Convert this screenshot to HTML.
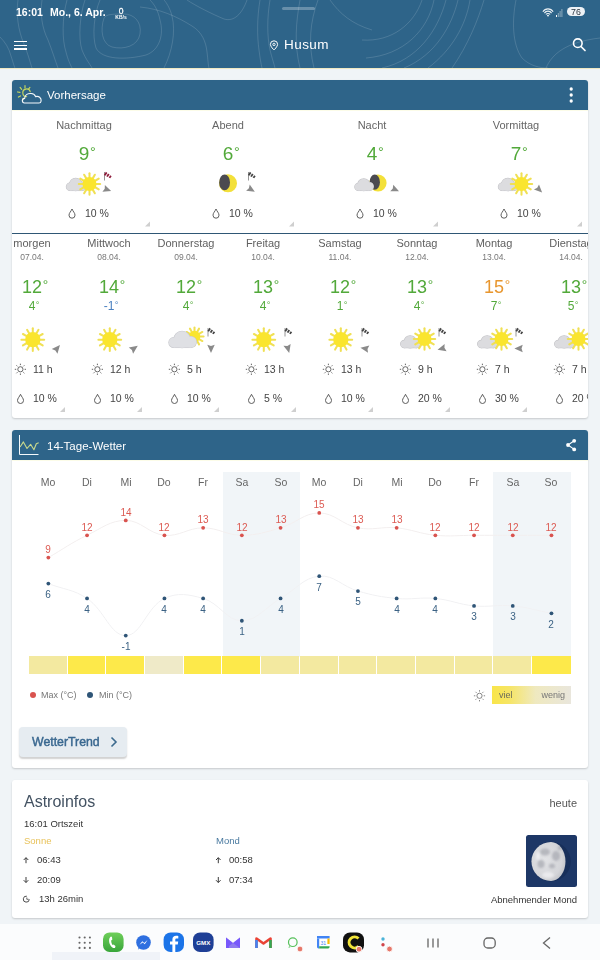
<!DOCTYPE html>
<html><head><meta charset="utf-8"><style>
*{margin:0;padding:0;box-sizing:border-box}
html,body{width:600px;height:960px;overflow:hidden;background:#f0f4f7;font-family:"Liberation Sans", sans-serif}
.t{position:absolute;white-space:nowrap;will-change:transform}
.abs{position:absolute}
</style></head><body>
<div class="abs" style="left:0;top:0;width:600px;height:68px;background:#2e6489"></div>
<svg style="position:absolute;left:0px;top:0px;" width="600" height="68" viewBox="0 0 600 68"><path d="M104 18 C100 30 102 44 112 47 C124 50 138 46 140 34 C142 22 134 14 124 14 C114 14 106 14 104 18" fill="none" stroke="rgba(255,255,255,0.14)" stroke-width="1"/><path d="M100 0 C94 14 92 36 96 48 C102 60 126 60 146 55 C160 50 164 34 160 20 C158 10 154 4 150 0" fill="none" stroke="rgba(255,255,255,0.14)" stroke-width="1"/><path d="M85 0 C80 14 78 38 82 50 C86 60 90 64 92 68" fill="none" stroke="rgba(255,255,255,0.14)" stroke-width="1"/><path d="M164 68 C172 52 176 32 172 16 C170 8 166 2 164 0" fill="none" stroke="rgba(255,255,255,0.14)" stroke-width="1"/><path d="M67 0 C62 18 62 40 66 52 C68 60 70 64 72 68" fill="none" stroke="rgba(255,255,255,0.14)" stroke-width="1"/><path d="M42 0 C40 14 42 28 48 40 C52 50 55 60 58 68" fill="none" stroke="rgba(255,255,255,0.14)" stroke-width="1"/><path d="M0 37 C5 42 9 48 11 56 C13 62 14 66 15 68" fill="none" stroke="rgba(255,255,255,0.14)" stroke-width="1"/><path d="M18 0 C16 14 18 30 24 44 C28 54 30 62 32 68" fill="none" stroke="rgba(255,255,255,0.14)" stroke-width="1"/><path d="M140 7 C160 9 176 16 192 26 C202 32 206 42 207 52 C208 60 208 64 209 68" fill="none" stroke="rgba(255,255,255,0.14)" stroke-width="1"/><path d="M187 0 C196 6 212 14 224 19 C234 22 242 14 247 0" fill="none" stroke="rgba(255,255,255,0.14)" stroke-width="1"/><path d="M260 0 C257 18 257 36 259 50 C260 58 261 64 262 68" fill="none" stroke="rgba(255,255,255,0.14)" stroke-width="1"/><path d="M270 0 C267 18 267 36 270 50 C272 58 274 64 275 68" fill="none" stroke="rgba(255,255,255,0.14)" stroke-width="1"/><path d="M300 0 C296 22 294 44 300 68" fill="none" stroke="rgba(255,255,255,0.14)" stroke-width="1"/><path d="M318 0 C310 22 308 44 314 68" fill="none" stroke="rgba(255,255,255,0.14)" stroke-width="1"/><path d="M330 0 C340 14 352 24 372 30" fill="none" stroke="rgba(255,255,255,0.14)" stroke-width="1"/><path d="M362 40 C392 42 414 24 422 0" fill="none" stroke="rgba(255,255,255,0.14)" stroke-width="1"/><path d="M366 58 C404 55 428 30 434 0" fill="none" stroke="rgba(255,255,255,0.14)" stroke-width="1"/><path d="M382 68 C418 60 438 30 446 0" fill="none" stroke="rgba(255,255,255,0.14)" stroke-width="1"/><path d="M404 68 C436 55 452 25 458 0" fill="none" stroke="rgba(255,255,255,0.14)" stroke-width="1"/><path d="M428 68 C452 50 466 25 470 0" fill="none" stroke="rgba(255,255,255,0.14)" stroke-width="1"/><path d="M452 68 C468 45 478 20 484 0" fill="none" stroke="rgba(255,255,255,0.14)" stroke-width="1"/><path d="M516 0 C512 20 512 44 522 58 C530 66 540 68 548 68" fill="none" stroke="rgba(255,255,255,0.14)" stroke-width="1"/><path d="M546 68 C552 54 566 42 600 38" fill="none" stroke="rgba(255,255,255,0.14)" stroke-width="1"/></svg>
<div class="abs" style="left:0;top:68px;width:600px;height:1px;background:#efe8c2"></div>
<div class="t" style="left:15.50px;top:7px;font-size:10.5px;line-height:10.5px;color:#fff;font-weight:700;">16:01</div>
<div class="t" style="left:50.00px;top:7px;font-size:10.5px;line-height:10.5px;color:#fff;font-weight:700;">Mo., 6. Apr.</div>
<div class="t" style="left:-29.00px;width:300px;text-align:center;top:7px;font-size:8.5px;line-height:8.5px;color:#fff;font-weight:400;-webkit-text-stroke:0.3px #fff">0</div>
<div class="t" style="left:-29.20px;width:300px;text-align:center;top:15px;font-size:5px;line-height:5px;color:#fff;font-weight:700;">KB/s</div>
<div class="abs" style="left:282px;top:7px;width:33px;height:3px;border-radius:2px;background:rgba(255,255,255,0.28)"></div>
<svg style="position:absolute;left:0px;top:0px;" width="600" height="30" viewBox="0 0 600 30"><path d="M542.90 11.70 A6.0 6.0 0 0 1 553.10 11.70" fill="none" stroke="#fff" stroke-width="1.1" opacity="0.9"/><path d="M544.43 13.14 A4.2 4.2 0 0 1 551.57 13.14" fill="none" stroke="#fff" stroke-width="1.1" opacity="0.9"/><path d="M545.96 14.58 A2.4 2.4 0 0 1 550.04 14.58" fill="none" stroke="#fff" stroke-width="1.1" opacity="0.9"/><circle cx="548" cy="15.6" r="0.9" fill="#fff"/><rect x="556.0" y="15" width="1" height="2" fill="#fff" opacity="1"/><rect x="557.8" y="13" width="1" height="4" fill="#fff" opacity="0.45"/><rect x="559.6" y="11" width="1" height="6" fill="#fff" opacity="0.45"/><rect x="561.4" y="9" width="1" height="8" fill="#fff" opacity="0.45"/></svg>
<div class="abs" style="left:567.3px;top:7.3px;width:18px;height:8.8px;border-radius:4.5px;background:#eef2f6"></div>
<div class="t" style="left:426.30px;width:300px;text-align:center;top:8px;font-size:8.8px;line-height:8.8px;color:#2a3540;font-weight:400;">76</div>
<div class="abs" style="left:14px;top:40.5px;width:13px;height:1.6px;background:#fff"></div>
<div class="abs" style="left:14px;top:44.5px;width:13px;height:1.6px;background:#fff"></div>
<div class="abs" style="left:14px;top:48.3px;width:13px;height:1.6px;background:#fff"></div>
<svg style="position:absolute;left:268px;top:39px;" width="12" height="13" viewBox="0 0 12 13"><path d="M6 11 C6 11 2.4 7.5 2.4 5.4 A3.6 3.6 0 0 1 9.6 5.4 C9.6 7.5 6 11 6 11 Z" fill="none" stroke="#fff" stroke-width="1"/><circle cx="6" cy="5.4" r="1.2" fill="none" stroke="#fff" stroke-width="0.9"/></svg>
<div class="t" style="left:284.40px;top:38px;font-size:13.5px;line-height:13.5px;color:#fff;font-weight:400;letter-spacing:0.45px">Husum</div>
<svg style="position:absolute;left:570px;top:35px;" width="20" height="20" viewBox="0 0 20 20"><circle cx="7.8" cy="8.2" r="4.3" fill="none" stroke="#fff" stroke-width="1.6"/><line x1="11" y1="11.5" x2="15" y2="15.5" stroke="#fff" stroke-width="1.7" stroke-linecap="round"/></svg>
<div class="abs" style="left:12px;top:80.2px;width:576px;height:338.3px;background:#fff;border-radius:3px;box-shadow:0 1px 2px rgba(0,0,0,0.18)"></div>
<div class="abs" style="left:12px;top:80.2px;width:576px;height:29.5px;background:#2e6489;border-radius:3px 3px 0 0"></div>
<div class="abs" style="left:12px;top:109.7px;width:576px;height:1px;background:#fcfce8"></div>
<svg style="position:absolute;left:12px;top:82px;" width="36" height="26" viewBox="0 0 36 26"><g stroke="#c4d55e" stroke-width="1.2" fill="none" stroke-linecap="round"><path d="M14.6 14.6 A3.8 3.8 0 1 1 18.2 9.6"/><line x1="13.00" y1="6.10" x2="13.00" y2="3.70"/><line x1="9.66" y1="7.32" x2="8.11" y2="5.48"/><line x1="7.88" y1="10.40" x2="5.52" y2="9.98"/><line x1="8.50" y1="13.90" x2="6.42" y2="15.10"/><line x1="11.22" y1="16.19" x2="10.40" y2="18.44"/><line x1="16.34" y1="7.32" x2="17.89" y2="5.48"/></g><path d="M12.5 21 C9.8 21 9.6 16.6 12.6 16.4 C13 13 16 11.2 19.2 11.5 C21.4 11.7 23 13 23.6 14.6 C26.6 13.6 29.6 16 29.1 19 C28.9 20.5 28 21 27 21 Z" fill="none" stroke="#f4f8fb" stroke-width="1.15"/></svg>
<div class="t" style="left:46.50px;top:90px;font-size:11.5px;line-height:11.5px;color:#fff;font-weight:400;">Vorhersage</div>
<svg style="position:absolute;left:560px;top:80px;" width="20" height="30" viewBox="0 0 20 30"><circle cx="11.2" cy="9" r="1.65" fill="#fff"/><circle cx="11.2" cy="15" r="1.65" fill="#fff"/><circle cx="11.2" cy="21" r="1.65" fill="#fff"/></svg>
<div class="t" style="left:-66.00px;width:300px;text-align:center;top:120px;font-size:11px;line-height:11px;color:#666;font-weight:400;">Nachmittag</div>
<div class="t" style="left:-66.00px;width:300px;text-align:center;top:144px;font-size:19px;line-height:19px;color:#52a93a"><span style="position:relative">9<span style="position:absolute;left:100%;top:0.02em;font-size:0.76em;padding-left:0.05em">°</span></span></div>
<div class="t" style="left:84.50px;top:208px;font-size:10.5px;line-height:10.5px;color:#444;font-weight:400;">10 %</div>
<div class="t" style="left:78.00px;width:300px;text-align:center;top:120px;font-size:11px;line-height:11px;color:#666;font-weight:400;">Abend</div>
<div class="t" style="left:78.00px;width:300px;text-align:center;top:144px;font-size:19px;line-height:19px;color:#52a93a"><span style="position:relative">6<span style="position:absolute;left:100%;top:0.02em;font-size:0.76em;padding-left:0.05em">°</span></span></div>
<div class="t" style="left:228.50px;top:208px;font-size:10.5px;line-height:10.5px;color:#444;font-weight:400;">10 %</div>
<div class="t" style="left:222.00px;width:300px;text-align:center;top:120px;font-size:11px;line-height:11px;color:#666;font-weight:400;">Nacht</div>
<div class="t" style="left:222.00px;width:300px;text-align:center;top:144px;font-size:19px;line-height:19px;color:#52a93a"><span style="position:relative">4<span style="position:absolute;left:100%;top:0.02em;font-size:0.76em;padding-left:0.05em">°</span></span></div>
<div class="t" style="left:372.50px;top:208px;font-size:10.5px;line-height:10.5px;color:#444;font-weight:400;">10 %</div>
<div class="t" style="left:366.00px;width:300px;text-align:center;top:120px;font-size:11px;line-height:11px;color:#666;font-weight:400;">Vormittag</div>
<div class="t" style="left:366.00px;width:300px;text-align:center;top:144px;font-size:19px;line-height:19px;color:#52a93a"><span style="position:relative">7<span style="position:absolute;left:100%;top:0.02em;font-size:0.76em;padding-left:0.05em">°</span></span></div>
<div class="t" style="left:516.50px;top:208px;font-size:10.5px;line-height:10.5px;color:#444;font-weight:400;">10 %</div>
<div class="abs" style="left:12px;top:232.8px;width:576px;height:1.2px;background:#2f5775"></div>
<div class="abs" style="left:12px;top:234px;width:576px;height:184px;overflow:hidden">
<div class="t" style="left:-130.00px;width:300px;text-align:center;top:4px;font-size:11px;line-height:11px;color:#606060;font-weight:400;">morgen</div>
<div class="t" style="left:-130.00px;width:300px;text-align:center;top:19px;font-size:8.5px;line-height:8.5px;color:#777;font-weight:400;">07.04.</div>
<div class="t" style="left:-130.00px;width:300px;text-align:center;top:44px;font-size:18px;line-height:18px;color:#52a93a"><span style="position:relative">12<span style="position:absolute;left:100%;top:-0.04em;font-size:0.76em;padding-left:0.05em">°</span></span></div>
<div class="t" style="left:-130.00px;width:300px;text-align:center;top:66px;font-size:12px;line-height:12px;color:#52a93a"><span style="position:relative">4<span style="position:absolute;left:100%;top:-0.04em;font-size:0.76em;padding-left:0.05em">°</span></span></div>
<div class="t" style="left:20.60px;top:130px;font-size:10.5px;line-height:10.5px;color:#444;font-weight:400;">11 h</div>
<div class="t" style="left:20.60px;top:159px;font-size:10.5px;line-height:10.5px;color:#444;font-weight:400;">10 %</div>
<div class="t" style="left:-53.00px;width:300px;text-align:center;top:4px;font-size:11px;line-height:11px;color:#606060;font-weight:400;">Mittwoch</div>
<div class="t" style="left:-53.00px;width:300px;text-align:center;top:19px;font-size:8.5px;line-height:8.5px;color:#777;font-weight:400;">08.04.</div>
<div class="t" style="left:-53.00px;width:300px;text-align:center;top:44px;font-size:18px;line-height:18px;color:#52a93a"><span style="position:relative">14<span style="position:absolute;left:100%;top:-0.04em;font-size:0.76em;padding-left:0.05em">°</span></span></div>
<div class="t" style="left:-53.00px;width:300px;text-align:center;top:66px;font-size:12px;line-height:12px;color:#4a80c0"><span style="position:relative">-1<span style="position:absolute;left:100%;top:-0.04em;font-size:0.76em;padding-left:0.05em">°</span></span></div>
<div class="t" style="left:97.60px;top:130px;font-size:10.5px;line-height:10.5px;color:#444;font-weight:400;">12 h</div>
<div class="t" style="left:97.60px;top:159px;font-size:10.5px;line-height:10.5px;color:#444;font-weight:400;">10 %</div>
<div class="t" style="left:24.00px;width:300px;text-align:center;top:4px;font-size:11px;line-height:11px;color:#606060;font-weight:400;">Donnerstag</div>
<div class="t" style="left:24.00px;width:300px;text-align:center;top:19px;font-size:8.5px;line-height:8.5px;color:#777;font-weight:400;">09.04.</div>
<div class="t" style="left:24.00px;width:300px;text-align:center;top:44px;font-size:18px;line-height:18px;color:#52a93a"><span style="position:relative">12<span style="position:absolute;left:100%;top:-0.04em;font-size:0.76em;padding-left:0.05em">°</span></span></div>
<div class="t" style="left:24.00px;width:300px;text-align:center;top:66px;font-size:12px;line-height:12px;color:#52a93a"><span style="position:relative">4<span style="position:absolute;left:100%;top:-0.04em;font-size:0.76em;padding-left:0.05em">°</span></span></div>
<div class="t" style="left:174.60px;top:130px;font-size:10.5px;line-height:10.5px;color:#444;font-weight:400;">5 h</div>
<div class="t" style="left:174.60px;top:159px;font-size:10.5px;line-height:10.5px;color:#444;font-weight:400;">10 %</div>
<div class="t" style="left:101.00px;width:300px;text-align:center;top:4px;font-size:11px;line-height:11px;color:#606060;font-weight:400;">Freitag</div>
<div class="t" style="left:101.00px;width:300px;text-align:center;top:19px;font-size:8.5px;line-height:8.5px;color:#777;font-weight:400;">10.04.</div>
<div class="t" style="left:101.00px;width:300px;text-align:center;top:44px;font-size:18px;line-height:18px;color:#52a93a"><span style="position:relative">13<span style="position:absolute;left:100%;top:-0.04em;font-size:0.76em;padding-left:0.05em">°</span></span></div>
<div class="t" style="left:101.00px;width:300px;text-align:center;top:66px;font-size:12px;line-height:12px;color:#52a93a"><span style="position:relative">4<span style="position:absolute;left:100%;top:-0.04em;font-size:0.76em;padding-left:0.05em">°</span></span></div>
<div class="t" style="left:251.60px;top:130px;font-size:10.5px;line-height:10.5px;color:#444;font-weight:400;">13 h</div>
<div class="t" style="left:251.60px;top:159px;font-size:10.5px;line-height:10.5px;color:#444;font-weight:400;">5 %</div>
<div class="t" style="left:178.00px;width:300px;text-align:center;top:4px;font-size:11px;line-height:11px;color:#606060;font-weight:400;">Samstag</div>
<div class="t" style="left:178.00px;width:300px;text-align:center;top:19px;font-size:8.5px;line-height:8.5px;color:#777;font-weight:400;">11.04.</div>
<div class="t" style="left:178.00px;width:300px;text-align:center;top:44px;font-size:18px;line-height:18px;color:#52a93a"><span style="position:relative">12<span style="position:absolute;left:100%;top:-0.04em;font-size:0.76em;padding-left:0.05em">°</span></span></div>
<div class="t" style="left:178.00px;width:300px;text-align:center;top:66px;font-size:12px;line-height:12px;color:#52a93a"><span style="position:relative">1<span style="position:absolute;left:100%;top:-0.04em;font-size:0.76em;padding-left:0.05em">°</span></span></div>
<div class="t" style="left:328.60px;top:130px;font-size:10.5px;line-height:10.5px;color:#444;font-weight:400;">13 h</div>
<div class="t" style="left:328.60px;top:159px;font-size:10.5px;line-height:10.5px;color:#444;font-weight:400;">10 %</div>
<div class="t" style="left:255.00px;width:300px;text-align:center;top:4px;font-size:11px;line-height:11px;color:#606060;font-weight:400;">Sonntag</div>
<div class="t" style="left:255.00px;width:300px;text-align:center;top:19px;font-size:8.5px;line-height:8.5px;color:#777;font-weight:400;">12.04.</div>
<div class="t" style="left:255.00px;width:300px;text-align:center;top:44px;font-size:18px;line-height:18px;color:#52a93a"><span style="position:relative">13<span style="position:absolute;left:100%;top:-0.04em;font-size:0.76em;padding-left:0.05em">°</span></span></div>
<div class="t" style="left:255.00px;width:300px;text-align:center;top:66px;font-size:12px;line-height:12px;color:#52a93a"><span style="position:relative">4<span style="position:absolute;left:100%;top:-0.04em;font-size:0.76em;padding-left:0.05em">°</span></span></div>
<div class="t" style="left:405.60px;top:130px;font-size:10.5px;line-height:10.5px;color:#444;font-weight:400;">9 h</div>
<div class="t" style="left:405.60px;top:159px;font-size:10.5px;line-height:10.5px;color:#444;font-weight:400;">20 %</div>
<div class="t" style="left:332.00px;width:300px;text-align:center;top:4px;font-size:11px;line-height:11px;color:#606060;font-weight:400;">Montag</div>
<div class="t" style="left:332.00px;width:300px;text-align:center;top:19px;font-size:8.5px;line-height:8.5px;color:#777;font-weight:400;">13.04.</div>
<div class="t" style="left:332.00px;width:300px;text-align:center;top:44px;font-size:18px;line-height:18px;color:#e8962e"><span style="position:relative">15<span style="position:absolute;left:100%;top:-0.04em;font-size:0.76em;padding-left:0.05em">°</span></span></div>
<div class="t" style="left:332.00px;width:300px;text-align:center;top:66px;font-size:12px;line-height:12px;color:#52a93a"><span style="position:relative">7<span style="position:absolute;left:100%;top:-0.04em;font-size:0.76em;padding-left:0.05em">°</span></span></div>
<div class="t" style="left:482.60px;top:130px;font-size:10.5px;line-height:10.5px;color:#444;font-weight:400;">7 h</div>
<div class="t" style="left:482.60px;top:159px;font-size:10.5px;line-height:10.5px;color:#444;font-weight:400;">30 %</div>
<div class="t" style="left:409.00px;width:300px;text-align:center;top:4px;font-size:11px;line-height:11px;color:#606060;font-weight:400;">Dienstag</div>
<div class="t" style="left:409.00px;width:300px;text-align:center;top:19px;font-size:8.5px;line-height:8.5px;color:#777;font-weight:400;">14.04.</div>
<div class="t" style="left:409.00px;width:300px;text-align:center;top:44px;font-size:18px;line-height:18px;color:#52a93a"><span style="position:relative">13<span style="position:absolute;left:100%;top:-0.04em;font-size:0.76em;padding-left:0.05em">°</span></span></div>
<div class="t" style="left:409.00px;width:300px;text-align:center;top:66px;font-size:12px;line-height:12px;color:#52a93a"><span style="position:relative">5<span style="position:absolute;left:100%;top:-0.04em;font-size:0.76em;padding-left:0.05em">°</span></span></div>
<div class="t" style="left:559.60px;top:130px;font-size:10.5px;line-height:10.5px;color:#444;font-weight:400;">7 h</div>
<div class="t" style="left:559.60px;top:159px;font-size:10.5px;line-height:10.5px;color:#444;font-weight:400;">20 %</div>
<svg style="position:absolute;left:0px;top:0px;" width="576" height="184" viewBox="0 0 576 184"><line x1="20.80" y1="98.60" x2="20.80" y2="94.30" stroke="#f0e054" stroke-width="2.04" stroke-linecap="round"/><line x1="24.35" y1="99.55" x2="26.50" y2="95.83" stroke="#f0e054" stroke-width="2.04" stroke-linecap="round"/><line x1="26.95" y1="102.15" x2="30.67" y2="100.00" stroke="#f0e054" stroke-width="2.04" stroke-linecap="round"/><line x1="27.90" y1="105.70" x2="32.20" y2="105.70" stroke="#f0e054" stroke-width="2.04" stroke-linecap="round"/><line x1="26.95" y1="109.25" x2="30.67" y2="111.40" stroke="#f0e054" stroke-width="2.04" stroke-linecap="round"/><line x1="24.35" y1="111.85" x2="26.50" y2="115.57" stroke="#f0e054" stroke-width="2.04" stroke-linecap="round"/><line x1="20.80" y1="112.80" x2="20.80" y2="117.10" stroke="#f0e054" stroke-width="2.04" stroke-linecap="round"/><line x1="17.25" y1="111.85" x2="15.10" y2="115.57" stroke="#f0e054" stroke-width="2.04" stroke-linecap="round"/><line x1="14.65" y1="109.25" x2="10.93" y2="111.40" stroke="#f0e054" stroke-width="2.04" stroke-linecap="round"/><line x1="13.70" y1="105.70" x2="9.40" y2="105.70" stroke="#f0e054" stroke-width="2.04" stroke-linecap="round"/><line x1="14.65" y1="102.15" x2="10.93" y2="100.00" stroke="#f0e054" stroke-width="2.04" stroke-linecap="round"/><line x1="17.25" y1="99.55" x2="15.10" y2="95.83" stroke="#f0e054" stroke-width="2.04" stroke-linecap="round"/><circle cx="20.8" cy="105.69999999999999" r="7.6" fill="#fae52e"/><polygon points="47.97,110.96 45.46,119.77 43.37,116.44 39.73,114.96" fill="#8a8a8a"/><circle cx="8.4" cy="135.3" r="2.6" fill="none" stroke="#555" stroke-width="0.9"/><line x1="12.60" y1="135.30" x2="14.00" y2="135.30" stroke="#555" stroke-width="0.9"/><line x1="11.37" y1="138.27" x2="12.36" y2="139.26" stroke="#555" stroke-width="0.9"/><line x1="8.40" y1="139.50" x2="8.40" y2="140.90" stroke="#555" stroke-width="0.9"/><line x1="5.43" y1="138.27" x2="4.44" y2="139.26" stroke="#555" stroke-width="0.9"/><line x1="4.20" y1="135.30" x2="2.80" y2="135.30" stroke="#555" stroke-width="0.9"/><line x1="5.43" y1="132.33" x2="4.44" y2="131.34" stroke="#555" stroke-width="0.9"/><line x1="8.40" y1="131.10" x2="8.40" y2="129.70" stroke="#555" stroke-width="0.9"/><line x1="11.37" y1="132.33" x2="12.36" y2="131.34" stroke="#555" stroke-width="0.9"/><path d="M8.5 160.3 C7.5 162.8 5.5 164.3 5.5 166.5 A3 3 0 0 0 11.5 166.5 C11.5 164.3 9.5 162.8 8.5 160.3 Z" fill="none" stroke="#555" stroke-width="0.95"/><polygon points="53,173 53,178 48,178" fill="#cfcfcf"/><line x1="97.80" y1="98.60" x2="97.80" y2="94.30" stroke="#f0e054" stroke-width="2.04" stroke-linecap="round"/><line x1="101.35" y1="99.55" x2="103.50" y2="95.83" stroke="#f0e054" stroke-width="2.04" stroke-linecap="round"/><line x1="103.95" y1="102.15" x2="107.67" y2="100.00" stroke="#f0e054" stroke-width="2.04" stroke-linecap="round"/><line x1="104.90" y1="105.70" x2="109.20" y2="105.70" stroke="#f0e054" stroke-width="2.04" stroke-linecap="round"/><line x1="103.95" y1="109.25" x2="107.67" y2="111.40" stroke="#f0e054" stroke-width="2.04" stroke-linecap="round"/><line x1="101.35" y1="111.85" x2="103.50" y2="115.57" stroke="#f0e054" stroke-width="2.04" stroke-linecap="round"/><line x1="97.80" y1="112.80" x2="97.80" y2="117.10" stroke="#f0e054" stroke-width="2.04" stroke-linecap="round"/><line x1="94.25" y1="111.85" x2="92.10" y2="115.57" stroke="#f0e054" stroke-width="2.04" stroke-linecap="round"/><line x1="91.65" y1="109.25" x2="87.93" y2="111.40" stroke="#f0e054" stroke-width="2.04" stroke-linecap="round"/><line x1="90.70" y1="105.70" x2="86.40" y2="105.70" stroke="#f0e054" stroke-width="2.04" stroke-linecap="round"/><line x1="91.65" y1="102.15" x2="87.93" y2="100.00" stroke="#f0e054" stroke-width="2.04" stroke-linecap="round"/><line x1="94.25" y1="99.55" x2="92.10" y2="95.83" stroke="#f0e054" stroke-width="2.04" stroke-linecap="round"/><circle cx="97.8" cy="105.69999999999999" r="7.6" fill="#fae52e"/><polygon points="125.78,111.85 121.08,119.71 119.93,115.95 116.79,113.58" fill="#8a8a8a"/><circle cx="85.4" cy="135.3" r="2.6" fill="none" stroke="#555" stroke-width="0.9"/><line x1="89.60" y1="135.30" x2="91.00" y2="135.30" stroke="#555" stroke-width="0.9"/><line x1="88.37" y1="138.27" x2="89.36" y2="139.26" stroke="#555" stroke-width="0.9"/><line x1="85.40" y1="139.50" x2="85.40" y2="140.90" stroke="#555" stroke-width="0.9"/><line x1="82.43" y1="138.27" x2="81.44" y2="139.26" stroke="#555" stroke-width="0.9"/><line x1="81.20" y1="135.30" x2="79.80" y2="135.30" stroke="#555" stroke-width="0.9"/><line x1="82.43" y1="132.33" x2="81.44" y2="131.34" stroke="#555" stroke-width="0.9"/><line x1="85.40" y1="131.10" x2="85.40" y2="129.70" stroke="#555" stroke-width="0.9"/><line x1="88.37" y1="132.33" x2="89.36" y2="131.34" stroke="#555" stroke-width="0.9"/><path d="M85.5 160.3 C84.5 162.8 82.5 164.3 82.5 166.5 A3 3 0 0 0 88.5 166.5 C88.5 164.3 86.5 162.8 85.5 160.3 Z" fill="none" stroke="#555" stroke-width="0.95"/><polygon points="130,173 130,178 125,178" fill="#cfcfcf"/><line x1="182.50" y1="97.20" x2="182.50" y2="93.40" stroke="#f0e054" stroke-width="2.04" stroke-linecap="round"/><line x1="185.15" y1="97.91" x2="187.05" y2="94.62" stroke="#f0e054" stroke-width="2.04" stroke-linecap="round"/><line x1="187.09" y1="99.85" x2="190.38" y2="97.95" stroke="#f0e054" stroke-width="2.04" stroke-linecap="round"/><line x1="187.80" y1="102.50" x2="191.60" y2="102.50" stroke="#f0e054" stroke-width="2.04" stroke-linecap="round"/><line x1="187.09" y1="105.15" x2="190.38" y2="107.05" stroke="#f0e054" stroke-width="2.04" stroke-linecap="round"/><line x1="185.15" y1="107.09" x2="187.05" y2="110.38" stroke="#f0e054" stroke-width="2.04" stroke-linecap="round"/><line x1="182.50" y1="107.80" x2="182.50" y2="111.60" stroke="#f0e054" stroke-width="2.04" stroke-linecap="round"/><line x1="179.85" y1="107.09" x2="177.95" y2="110.38" stroke="#f0e054" stroke-width="2.04" stroke-linecap="round"/><line x1="177.91" y1="105.15" x2="174.62" y2="107.05" stroke="#f0e054" stroke-width="2.04" stroke-linecap="round"/><line x1="177.20" y1="102.50" x2="173.40" y2="102.50" stroke="#f0e054" stroke-width="2.04" stroke-linecap="round"/><line x1="177.91" y1="99.85" x2="174.62" y2="97.95" stroke="#f0e054" stroke-width="2.04" stroke-linecap="round"/><line x1="179.85" y1="97.91" x2="177.95" y2="94.62" stroke="#f0e054" stroke-width="2.04" stroke-linecap="round"/><circle cx="182.5" cy="102.5" r="5.8" fill="#fae52e"/><g fill="#c8c9ce" stroke="#c8c9ce" stroke-width="1.1"><circle cx="161.81" cy="108.55" r="4.95"/><circle cx="170.06" cy="105.53" r="8.25"/><circle cx="178.90" cy="108.00" r="5.50"/><rect x="161.81" y="106.62" width="17.09" height="6.88"/></g><g fill="#dfe0e4"><circle cx="161.81" cy="108.55" r="4.95"/><circle cx="170.06" cy="105.53" r="8.25"/><circle cx="178.90" cy="108.00" r="5.50"/><rect x="161.81" y="106.62" width="17.09" height="6.88"/></g><line x1="196" y1="94" x2="196" y2="102.5" stroke="#8a8a8a" stroke-width="0.9"/><polygon points="197.43,93.80 198.85,94.91 196.97,97.83 195.37,97.00" fill="#444"/><polygon points="199.56,95.47 200.99,96.57 199.37,99.09 197.77,98.25" fill="#444"/><polygon points="201.70,97.13 203.12,98.24 201.77,100.34 200.17,99.50" fill="#444"/><polygon points="199.00,119.12 195.26,110.76 199.00,111.97 202.74,110.76" fill="#8a8a8a"/><circle cx="162.4" cy="135.3" r="2.6" fill="none" stroke="#555" stroke-width="0.9"/><line x1="166.60" y1="135.30" x2="168.00" y2="135.30" stroke="#555" stroke-width="0.9"/><line x1="165.37" y1="138.27" x2="166.36" y2="139.26" stroke="#555" stroke-width="0.9"/><line x1="162.40" y1="139.50" x2="162.40" y2="140.90" stroke="#555" stroke-width="0.9"/><line x1="159.43" y1="138.27" x2="158.44" y2="139.26" stroke="#555" stroke-width="0.9"/><line x1="158.20" y1="135.30" x2="156.80" y2="135.30" stroke="#555" stroke-width="0.9"/><line x1="159.43" y1="132.33" x2="158.44" y2="131.34" stroke="#555" stroke-width="0.9"/><line x1="162.40" y1="131.10" x2="162.40" y2="129.70" stroke="#555" stroke-width="0.9"/><line x1="165.37" y1="132.33" x2="166.36" y2="131.34" stroke="#555" stroke-width="0.9"/><path d="M162.5 160.3 C161.5 162.8 159.5 164.3 159.5 166.5 A3 3 0 0 0 165.5 166.5 C165.5 164.3 163.5 162.8 162.5 160.3 Z" fill="none" stroke="#555" stroke-width="0.95"/><polygon points="207,173 207,178 202,178" fill="#cfcfcf"/><line x1="251.80" y1="98.60" x2="251.80" y2="94.30" stroke="#f0e054" stroke-width="2.04" stroke-linecap="round"/><line x1="255.35" y1="99.55" x2="257.50" y2="95.83" stroke="#f0e054" stroke-width="2.04" stroke-linecap="round"/><line x1="257.95" y1="102.15" x2="261.67" y2="100.00" stroke="#f0e054" stroke-width="2.04" stroke-linecap="round"/><line x1="258.90" y1="105.70" x2="263.20" y2="105.70" stroke="#f0e054" stroke-width="2.04" stroke-linecap="round"/><line x1="257.95" y1="109.25" x2="261.67" y2="111.40" stroke="#f0e054" stroke-width="2.04" stroke-linecap="round"/><line x1="255.35" y1="111.85" x2="257.50" y2="115.57" stroke="#f0e054" stroke-width="2.04" stroke-linecap="round"/><line x1="251.80" y1="112.80" x2="251.80" y2="117.10" stroke="#f0e054" stroke-width="2.04" stroke-linecap="round"/><line x1="248.25" y1="111.85" x2="246.10" y2="115.57" stroke="#f0e054" stroke-width="2.04" stroke-linecap="round"/><line x1="245.65" y1="109.25" x2="241.93" y2="111.40" stroke="#f0e054" stroke-width="2.04" stroke-linecap="round"/><line x1="244.70" y1="105.70" x2="240.40" y2="105.70" stroke="#f0e054" stroke-width="2.04" stroke-linecap="round"/><line x1="245.65" y1="102.15" x2="241.93" y2="100.00" stroke="#f0e054" stroke-width="2.04" stroke-linecap="round"/><line x1="248.25" y1="99.55" x2="246.10" y2="95.83" stroke="#f0e054" stroke-width="2.04" stroke-linecap="round"/><circle cx="251.8" cy="105.69999999999999" r="7.6" fill="#fae52e"/><line x1="273" y1="94" x2="273" y2="102.5" stroke="#8a8a8a" stroke-width="0.9"/><polygon points="274.43,93.80 275.85,94.91 273.97,97.83 272.37,97.00" fill="#444"/><polygon points="276.56,95.47 277.99,96.57 276.37,99.09 274.77,98.25" fill="#444"/><polygon points="278.70,97.13 280.12,98.24 278.77,100.34 277.17,99.50" fill="#444"/><polygon points="277.20,118.96 271.42,111.86 275.35,112.06 278.64,109.92" fill="#8a8a8a"/><circle cx="239.4" cy="135.3" r="2.6" fill="none" stroke="#555" stroke-width="0.9"/><line x1="243.60" y1="135.30" x2="245.00" y2="135.30" stroke="#555" stroke-width="0.9"/><line x1="242.37" y1="138.27" x2="243.36" y2="139.26" stroke="#555" stroke-width="0.9"/><line x1="239.40" y1="139.50" x2="239.40" y2="140.90" stroke="#555" stroke-width="0.9"/><line x1="236.43" y1="138.27" x2="235.44" y2="139.26" stroke="#555" stroke-width="0.9"/><line x1="235.20" y1="135.30" x2="233.80" y2="135.30" stroke="#555" stroke-width="0.9"/><line x1="236.43" y1="132.33" x2="235.44" y2="131.34" stroke="#555" stroke-width="0.9"/><line x1="239.40" y1="131.10" x2="239.40" y2="129.70" stroke="#555" stroke-width="0.9"/><line x1="242.37" y1="132.33" x2="243.36" y2="131.34" stroke="#555" stroke-width="0.9"/><path d="M239.5 160.3 C238.5 162.8 236.5 164.3 236.5 166.5 A3 3 0 0 0 242.5 166.5 C242.5 164.3 240.5 162.8 239.5 160.3 Z" fill="none" stroke="#555" stroke-width="0.95"/><polygon points="284,173 284,178 279,178" fill="#cfcfcf"/><line x1="328.80" y1="98.60" x2="328.80" y2="94.30" stroke="#f0e054" stroke-width="2.04" stroke-linecap="round"/><line x1="332.35" y1="99.55" x2="334.50" y2="95.83" stroke="#f0e054" stroke-width="2.04" stroke-linecap="round"/><line x1="334.95" y1="102.15" x2="338.67" y2="100.00" stroke="#f0e054" stroke-width="2.04" stroke-linecap="round"/><line x1="335.90" y1="105.70" x2="340.20" y2="105.70" stroke="#f0e054" stroke-width="2.04" stroke-linecap="round"/><line x1="334.95" y1="109.25" x2="338.67" y2="111.40" stroke="#f0e054" stroke-width="2.04" stroke-linecap="round"/><line x1="332.35" y1="111.85" x2="334.50" y2="115.57" stroke="#f0e054" stroke-width="2.04" stroke-linecap="round"/><line x1="328.80" y1="112.80" x2="328.80" y2="117.10" stroke="#f0e054" stroke-width="2.04" stroke-linecap="round"/><line x1="325.25" y1="111.85" x2="323.10" y2="115.57" stroke="#f0e054" stroke-width="2.04" stroke-linecap="round"/><line x1="322.65" y1="109.25" x2="318.93" y2="111.40" stroke="#f0e054" stroke-width="2.04" stroke-linecap="round"/><line x1="321.70" y1="105.70" x2="317.40" y2="105.70" stroke="#f0e054" stroke-width="2.04" stroke-linecap="round"/><line x1="322.65" y1="102.15" x2="318.93" y2="100.00" stroke="#f0e054" stroke-width="2.04" stroke-linecap="round"/><line x1="325.25" y1="99.55" x2="323.10" y2="95.83" stroke="#f0e054" stroke-width="2.04" stroke-linecap="round"/><circle cx="328.8" cy="105.69999999999999" r="7.6" fill="#fae52e"/><line x1="350" y1="94" x2="350" y2="102.5" stroke="#8a8a8a" stroke-width="0.9"/><polygon points="351.43,93.80 352.85,94.91 350.97,97.83 349.37,97.00" fill="#444"/><polygon points="353.56,95.47 354.99,96.57 353.37,99.09 351.77,98.25" fill="#444"/><polygon points="355.70,97.13 357.12,98.24 355.77,100.34 354.17,99.50" fill="#444"/><polygon points="348.45,113.70 357.33,111.47 355.49,114.94 356.03,118.83" fill="#8a8a8a"/><circle cx="316.4" cy="135.3" r="2.6" fill="none" stroke="#555" stroke-width="0.9"/><line x1="320.60" y1="135.30" x2="322.00" y2="135.30" stroke="#555" stroke-width="0.9"/><line x1="319.37" y1="138.27" x2="320.36" y2="139.26" stroke="#555" stroke-width="0.9"/><line x1="316.40" y1="139.50" x2="316.40" y2="140.90" stroke="#555" stroke-width="0.9"/><line x1="313.43" y1="138.27" x2="312.44" y2="139.26" stroke="#555" stroke-width="0.9"/><line x1="312.20" y1="135.30" x2="310.80" y2="135.30" stroke="#555" stroke-width="0.9"/><line x1="313.43" y1="132.33" x2="312.44" y2="131.34" stroke="#555" stroke-width="0.9"/><line x1="316.40" y1="131.10" x2="316.40" y2="129.70" stroke="#555" stroke-width="0.9"/><line x1="319.37" y1="132.33" x2="320.36" y2="131.34" stroke="#555" stroke-width="0.9"/><path d="M316.5 160.3 C315.5 162.8 313.5 164.3 313.5 166.5 A3 3 0 0 0 319.5 166.5 C319.5 164.3 317.5 162.8 316.5 160.3 Z" fill="none" stroke="#555" stroke-width="0.95"/><polygon points="361,173 361,178 356,178" fill="#cfcfcf"/><g fill="#c4c4c8" stroke="#c4c4c8" stroke-width="1.1"><circle cx="392.29" cy="110.04" r="3.66"/><circle cx="398.18" cy="107.80" r="6.10"/><circle cx="404.50" cy="109.63" r="4.07"/><rect x="392.29" y="108.62" width="12.21" height="5.08"/></g><g fill="#dcdcdf"><circle cx="392.29" cy="110.04" r="3.66"/><circle cx="398.18" cy="107.80" r="6.10"/><circle cx="404.50" cy="109.63" r="4.07"/><rect x="392.29" y="108.62" width="12.21" height="5.08"/></g><line x1="412.50" y1="98.50" x2="412.50" y2="94.30" stroke="#f0e054" stroke-width="2.04" stroke-linecap="round"/><line x1="415.75" y1="99.37" x2="417.85" y2="95.73" stroke="#f0e054" stroke-width="2.04" stroke-linecap="round"/><line x1="418.13" y1="101.75" x2="421.77" y2="99.65" stroke="#f0e054" stroke-width="2.04" stroke-linecap="round"/><line x1="419.00" y1="105.00" x2="423.20" y2="105.00" stroke="#f0e054" stroke-width="2.04" stroke-linecap="round"/><line x1="418.13" y1="108.25" x2="421.77" y2="110.35" stroke="#f0e054" stroke-width="2.04" stroke-linecap="round"/><line x1="415.75" y1="110.63" x2="417.85" y2="114.27" stroke="#f0e054" stroke-width="2.04" stroke-linecap="round"/><line x1="412.50" y1="111.50" x2="412.50" y2="115.70" stroke="#f0e054" stroke-width="2.04" stroke-linecap="round"/><line x1="409.25" y1="110.63" x2="407.15" y2="114.27" stroke="#f0e054" stroke-width="2.04" stroke-linecap="round"/><line x1="406.87" y1="108.25" x2="403.23" y2="110.35" stroke="#f0e054" stroke-width="2.04" stroke-linecap="round"/><line x1="406.00" y1="105.00" x2="401.80" y2="105.00" stroke="#f0e054" stroke-width="2.04" stroke-linecap="round"/><line x1="406.87" y1="101.75" x2="403.23" y2="99.65" stroke="#f0e054" stroke-width="2.04" stroke-linecap="round"/><line x1="409.25" y1="99.37" x2="407.15" y2="95.73" stroke="#f0e054" stroke-width="2.04" stroke-linecap="round"/><circle cx="412.5" cy="105" r="7.0" fill="#fae52e"/><line x1="427" y1="94" x2="427" y2="102.5" stroke="#8a8a8a" stroke-width="0.9"/><polygon points="428.43,93.80 429.85,94.91 427.97,97.83 426.37,97.00" fill="#444"/><polygon points="430.56,95.47 431.99,96.57 430.37,99.09 428.77,98.25" fill="#444"/><polygon points="432.70,97.13 434.12,98.24 432.77,100.34 431.17,99.50" fill="#444"/><polygon points="425.54,115.70 432.64,109.92 432.44,113.85 434.58,117.14" fill="#8a8a8a"/><circle cx="393.4" cy="135.3" r="2.6" fill="none" stroke="#555" stroke-width="0.9"/><line x1="397.60" y1="135.30" x2="399.00" y2="135.30" stroke="#555" stroke-width="0.9"/><line x1="396.37" y1="138.27" x2="397.36" y2="139.26" stroke="#555" stroke-width="0.9"/><line x1="393.40" y1="139.50" x2="393.40" y2="140.90" stroke="#555" stroke-width="0.9"/><line x1="390.43" y1="138.27" x2="389.44" y2="139.26" stroke="#555" stroke-width="0.9"/><line x1="389.20" y1="135.30" x2="387.80" y2="135.30" stroke="#555" stroke-width="0.9"/><line x1="390.43" y1="132.33" x2="389.44" y2="131.34" stroke="#555" stroke-width="0.9"/><line x1="393.40" y1="131.10" x2="393.40" y2="129.70" stroke="#555" stroke-width="0.9"/><line x1="396.37" y1="132.33" x2="397.36" y2="131.34" stroke="#555" stroke-width="0.9"/><path d="M393.5 160.3 C392.5 162.8 390.5 164.3 390.5 166.5 A3 3 0 0 0 396.5 166.5 C396.5 164.3 394.5 162.8 393.5 160.3 Z" fill="none" stroke="#555" stroke-width="0.95"/><polygon points="438,173 438,178 433,178" fill="#cfcfcf"/><g fill="#c4c4c8" stroke="#c4c4c8" stroke-width="1.1"><circle cx="469.29" cy="110.04" r="3.66"/><circle cx="475.18" cy="107.80" r="6.10"/><circle cx="481.50" cy="109.63" r="4.07"/><rect x="469.29" y="108.62" width="12.21" height="5.08"/></g><g fill="#dcdcdf"><circle cx="469.29" cy="110.04" r="3.66"/><circle cx="475.18" cy="107.80" r="6.10"/><circle cx="481.50" cy="109.63" r="4.07"/><rect x="469.29" y="108.62" width="12.21" height="5.08"/></g><line x1="489.50" y1="98.50" x2="489.50" y2="94.30" stroke="#f0e054" stroke-width="2.04" stroke-linecap="round"/><line x1="492.75" y1="99.37" x2="494.85" y2="95.73" stroke="#f0e054" stroke-width="2.04" stroke-linecap="round"/><line x1="495.13" y1="101.75" x2="498.77" y2="99.65" stroke="#f0e054" stroke-width="2.04" stroke-linecap="round"/><line x1="496.00" y1="105.00" x2="500.20" y2="105.00" stroke="#f0e054" stroke-width="2.04" stroke-linecap="round"/><line x1="495.13" y1="108.25" x2="498.77" y2="110.35" stroke="#f0e054" stroke-width="2.04" stroke-linecap="round"/><line x1="492.75" y1="110.63" x2="494.85" y2="114.27" stroke="#f0e054" stroke-width="2.04" stroke-linecap="round"/><line x1="489.50" y1="111.50" x2="489.50" y2="115.70" stroke="#f0e054" stroke-width="2.04" stroke-linecap="round"/><line x1="486.25" y1="110.63" x2="484.15" y2="114.27" stroke="#f0e054" stroke-width="2.04" stroke-linecap="round"/><line x1="483.87" y1="108.25" x2="480.23" y2="110.35" stroke="#f0e054" stroke-width="2.04" stroke-linecap="round"/><line x1="483.00" y1="105.00" x2="478.80" y2="105.00" stroke="#f0e054" stroke-width="2.04" stroke-linecap="round"/><line x1="483.87" y1="101.75" x2="480.23" y2="99.65" stroke="#f0e054" stroke-width="2.04" stroke-linecap="round"/><line x1="486.25" y1="99.37" x2="484.15" y2="95.73" stroke="#f0e054" stroke-width="2.04" stroke-linecap="round"/><circle cx="489.5" cy="105" r="7.0" fill="#fae52e"/><line x1="504" y1="94" x2="504" y2="102.5" stroke="#8a8a8a" stroke-width="0.9"/><polygon points="505.43,93.80 506.85,94.91 504.97,97.83 503.37,97.00" fill="#444"/><polygon points="507.56,95.47 508.99,96.57 507.37,99.09 505.77,98.25" fill="#444"/><polygon points="509.70,97.13 511.12,98.24 509.77,100.34 508.17,99.50" fill="#444"/><polygon points="502.38,114.50 510.74,110.76 509.53,114.50 510.74,118.24" fill="#8a8a8a"/><circle cx="470.4" cy="135.3" r="2.6" fill="none" stroke="#555" stroke-width="0.9"/><line x1="474.60" y1="135.30" x2="476.00" y2="135.30" stroke="#555" stroke-width="0.9"/><line x1="473.37" y1="138.27" x2="474.36" y2="139.26" stroke="#555" stroke-width="0.9"/><line x1="470.40" y1="139.50" x2="470.40" y2="140.90" stroke="#555" stroke-width="0.9"/><line x1="467.43" y1="138.27" x2="466.44" y2="139.26" stroke="#555" stroke-width="0.9"/><line x1="466.20" y1="135.30" x2="464.80" y2="135.30" stroke="#555" stroke-width="0.9"/><line x1="467.43" y1="132.33" x2="466.44" y2="131.34" stroke="#555" stroke-width="0.9"/><line x1="470.40" y1="131.10" x2="470.40" y2="129.70" stroke="#555" stroke-width="0.9"/><line x1="473.37" y1="132.33" x2="474.36" y2="131.34" stroke="#555" stroke-width="0.9"/><path d="M470.5 160.3 C469.5 162.8 467.5 164.3 467.5 166.5 A3 3 0 0 0 473.5 166.5 C473.5 164.3 471.5 162.8 470.5 160.3 Z" fill="none" stroke="#555" stroke-width="0.95"/><polygon points="515,173 515,178 510,178" fill="#cfcfcf"/><g fill="#c4c4c8" stroke="#c4c4c8" stroke-width="1.1"><circle cx="546.29" cy="110.04" r="3.66"/><circle cx="552.18" cy="107.80" r="6.10"/><circle cx="558.50" cy="109.63" r="4.07"/><rect x="546.29" y="108.62" width="12.21" height="5.08"/></g><g fill="#dcdcdf"><circle cx="546.29" cy="110.04" r="3.66"/><circle cx="552.18" cy="107.80" r="6.10"/><circle cx="558.50" cy="109.63" r="4.07"/><rect x="546.29" y="108.62" width="12.21" height="5.08"/></g><line x1="566.50" y1="98.50" x2="566.50" y2="94.30" stroke="#f0e054" stroke-width="2.04" stroke-linecap="round"/><line x1="569.75" y1="99.37" x2="571.85" y2="95.73" stroke="#f0e054" stroke-width="2.04" stroke-linecap="round"/><line x1="572.13" y1="101.75" x2="575.77" y2="99.65" stroke="#f0e054" stroke-width="2.04" stroke-linecap="round"/><line x1="573.00" y1="105.00" x2="577.20" y2="105.00" stroke="#f0e054" stroke-width="2.04" stroke-linecap="round"/><line x1="572.13" y1="108.25" x2="575.77" y2="110.35" stroke="#f0e054" stroke-width="2.04" stroke-linecap="round"/><line x1="569.75" y1="110.63" x2="571.85" y2="114.27" stroke="#f0e054" stroke-width="2.04" stroke-linecap="round"/><line x1="566.50" y1="111.50" x2="566.50" y2="115.70" stroke="#f0e054" stroke-width="2.04" stroke-linecap="round"/><line x1="563.25" y1="110.63" x2="561.15" y2="114.27" stroke="#f0e054" stroke-width="2.04" stroke-linecap="round"/><line x1="560.87" y1="108.25" x2="557.23" y2="110.35" stroke="#f0e054" stroke-width="2.04" stroke-linecap="round"/><line x1="560.00" y1="105.00" x2="555.80" y2="105.00" stroke="#f0e054" stroke-width="2.04" stroke-linecap="round"/><line x1="560.87" y1="101.75" x2="557.23" y2="99.65" stroke="#f0e054" stroke-width="2.04" stroke-linecap="round"/><line x1="563.25" y1="99.37" x2="561.15" y2="95.73" stroke="#f0e054" stroke-width="2.04" stroke-linecap="round"/><circle cx="566.5" cy="105" r="7.0" fill="#fae52e"/><polygon points="584.00,109.88 587.74,118.24 584.00,117.03 580.26,118.24" fill="#8a8a8a"/><circle cx="547.4" cy="135.3" r="2.6" fill="none" stroke="#555" stroke-width="0.9"/><line x1="551.60" y1="135.30" x2="553.00" y2="135.30" stroke="#555" stroke-width="0.9"/><line x1="550.37" y1="138.27" x2="551.36" y2="139.26" stroke="#555" stroke-width="0.9"/><line x1="547.40" y1="139.50" x2="547.40" y2="140.90" stroke="#555" stroke-width="0.9"/><line x1="544.43" y1="138.27" x2="543.44" y2="139.26" stroke="#555" stroke-width="0.9"/><line x1="543.20" y1="135.30" x2="541.80" y2="135.30" stroke="#555" stroke-width="0.9"/><line x1="544.43" y1="132.33" x2="543.44" y2="131.34" stroke="#555" stroke-width="0.9"/><line x1="547.40" y1="131.10" x2="547.40" y2="129.70" stroke="#555" stroke-width="0.9"/><line x1="550.37" y1="132.33" x2="551.36" y2="131.34" stroke="#555" stroke-width="0.9"/><path d="M547.5 160.3 C546.5 162.8 544.5 164.3 544.5 166.5 A3 3 0 0 0 550.5 166.5 C550.5 164.3 548.5 162.8 547.5 160.3 Z" fill="none" stroke="#555" stroke-width="0.95"/><polygon points="592,173 592,178 587,178" fill="#cfcfcf"/></svg>
</div>
<svg style="position:absolute;left:0px;top:0px;" width="600" height="240" viewBox="0 0 600 240"><g fill="#c4c4c8" stroke="#c4c4c8" stroke-width="1.1"><circle cx="70.10" cy="186.75" r="3.75"/><circle cx="75.70" cy="184.46" r="6.25"/><circle cx="81.70" cy="186.33" r="4.17"/><rect x="70.10" y="185.29" width="11.60" height="5.21"/></g><g fill="#dcdcdf"><circle cx="70.10" cy="186.75" r="3.75"/><circle cx="75.70" cy="184.46" r="6.25"/><circle cx="81.70" cy="186.33" r="4.17"/><rect x="70.10" y="185.29" width="11.60" height="5.21"/></g><line x1="89.50" y1="177.50" x2="89.50" y2="173.30" stroke="#f0e054" stroke-width="2.04" stroke-linecap="round"/><line x1="92.75" y1="178.37" x2="94.85" y2="174.73" stroke="#f0e054" stroke-width="2.04" stroke-linecap="round"/><line x1="95.13" y1="180.75" x2="98.77" y2="178.65" stroke="#f0e054" stroke-width="2.04" stroke-linecap="round"/><line x1="96.00" y1="184.00" x2="100.20" y2="184.00" stroke="#f0e054" stroke-width="2.04" stroke-linecap="round"/><line x1="95.13" y1="187.25" x2="98.77" y2="189.35" stroke="#f0e054" stroke-width="2.04" stroke-linecap="round"/><line x1="92.75" y1="189.63" x2="94.85" y2="193.27" stroke="#f0e054" stroke-width="2.04" stroke-linecap="round"/><line x1="89.50" y1="190.50" x2="89.50" y2="194.70" stroke="#f0e054" stroke-width="2.04" stroke-linecap="round"/><line x1="86.25" y1="189.63" x2="84.15" y2="193.27" stroke="#f0e054" stroke-width="2.04" stroke-linecap="round"/><line x1="83.87" y1="187.25" x2="80.23" y2="189.35" stroke="#f0e054" stroke-width="2.04" stroke-linecap="round"/><line x1="83.00" y1="184.00" x2="78.80" y2="184.00" stroke="#f0e054" stroke-width="2.04" stroke-linecap="round"/><line x1="83.87" y1="180.75" x2="80.23" y2="178.65" stroke="#f0e054" stroke-width="2.04" stroke-linecap="round"/><line x1="86.25" y1="178.37" x2="84.15" y2="174.73" stroke="#f0e054" stroke-width="2.04" stroke-linecap="round"/><circle cx="89.5" cy="184" r="7.0" fill="#fae52e"/><line x1="104.5" y1="172" x2="104.5" y2="180.5" stroke="#8a8a8a" stroke-width="0.9"/><polygon points="105.93,171.80 107.35,172.91 105.47,175.83 103.87,175.00" fill="#8e1b3b"/><polygon points="108.06,173.47 109.49,174.57 107.87,177.09 106.27,176.25" fill="#8e1b3b"/><polygon points="110.20,175.13 111.62,176.24 110.27,178.34 108.67,177.50" fill="#8e1b3b"/><polygon points="111.14,191.01 102.42,191.63 104.73,188.67 104.87,184.92" fill="#8a8a8a"/><path d="M72 209 C71 211.5 69 213 69 215.2 A3 3 0 0 0 75 215.2 C75 213 73 211.5 72 209 Z" fill="none" stroke="#555" stroke-width="0.95"/><polygon points="150,221.5 150,226.5 145,226.5" fill="#cfcfcf"/><circle cx="228" cy="183.3" r="9" fill="#f3e03a"/><ellipse cx="224.60" cy="182.40" rx="5.40" ry="7.92" fill="#4b4a50"/><line x1="248.5" y1="172" x2="248.5" y2="180.5" stroke="#8a8a8a" stroke-width="0.9"/><polygon points="249.93,171.80 251.35,172.91 249.47,175.83 247.87,175.00" fill="#444"/><polygon points="252.06,173.47 253.49,174.57 251.87,177.09 250.27,176.25" fill="#444"/><polygon points="254.20,175.13 255.62,176.24 254.27,178.34 252.67,177.50" fill="#444"/><polygon points="254.82,191.71 246.12,190.81 248.91,188.29 249.69,184.62" fill="#8a8a8a"/><path d="M216 209 C215 211.5 213 213 213 215.2 A3 3 0 0 0 219 215.2 C219 213 217 211.5 216 209 Z" fill="none" stroke="#555" stroke-width="0.95"/><polygon points="294,221.5 294,226.5 289,226.5" fill="#cfcfcf"/><circle cx="378" cy="183" r="8.6" fill="#f3e03a"/><ellipse cx="374.76" cy="182.14" rx="5.16" ry="7.57" fill="#4b4a50"/><g fill="#c4c4c8" stroke="#c4c4c8" stroke-width="1.1"><circle cx="358.41" cy="186.90" r="3.60"/><circle cx="363.72" cy="184.70" r="6.00"/><circle cx="369.40" cy="186.50" r="4.00"/><rect x="358.41" y="185.50" width="10.99" height="5.00"/></g><g fill="#dcdcdf"><circle cx="358.41" cy="186.90" r="3.60"/><circle cx="363.72" cy="184.70" r="6.00"/><circle cx="369.40" cy="186.50" r="4.00"/><rect x="358.41" y="185.50" width="10.99" height="5.00"/></g><polygon points="399.00,191.36 390.26,191.23 392.81,188.48 393.27,184.76" fill="#8a8a8a"/><path d="M360 209 C359 211.5 357 213 357 215.2 A3 3 0 0 0 363 215.2 C363 213 361 211.5 360 209 Z" fill="none" stroke="#555" stroke-width="0.95"/><polygon points="438,221.5 438,226.5 433,226.5" fill="#cfcfcf"/><g fill="#c4c4c8" stroke="#c4c4c8" stroke-width="1.1"><circle cx="502.10" cy="186.75" r="3.75"/><circle cx="507.70" cy="184.46" r="6.25"/><circle cx="513.70" cy="186.33" r="4.17"/><rect x="502.10" y="185.29" width="11.60" height="5.21"/></g><g fill="#dcdcdf"><circle cx="502.10" cy="186.75" r="3.75"/><circle cx="507.70" cy="184.46" r="6.25"/><circle cx="513.70" cy="186.33" r="4.17"/><rect x="502.10" y="185.29" width="11.60" height="5.21"/></g><line x1="521.50" y1="177.50" x2="521.50" y2="173.30" stroke="#f0e054" stroke-width="2.04" stroke-linecap="round"/><line x1="524.75" y1="178.37" x2="526.85" y2="174.73" stroke="#f0e054" stroke-width="2.04" stroke-linecap="round"/><line x1="527.13" y1="180.75" x2="530.77" y2="178.65" stroke="#f0e054" stroke-width="2.04" stroke-linecap="round"/><line x1="528.00" y1="184.00" x2="532.20" y2="184.00" stroke="#f0e054" stroke-width="2.04" stroke-linecap="round"/><line x1="527.13" y1="187.25" x2="530.77" y2="189.35" stroke="#f0e054" stroke-width="2.04" stroke-linecap="round"/><line x1="524.75" y1="189.63" x2="526.85" y2="193.27" stroke="#f0e054" stroke-width="2.04" stroke-linecap="round"/><line x1="521.50" y1="190.50" x2="521.50" y2="194.70" stroke="#f0e054" stroke-width="2.04" stroke-linecap="round"/><line x1="518.25" y1="189.63" x2="516.15" y2="193.27" stroke="#f0e054" stroke-width="2.04" stroke-linecap="round"/><line x1="515.87" y1="187.25" x2="512.23" y2="189.35" stroke="#f0e054" stroke-width="2.04" stroke-linecap="round"/><line x1="515.00" y1="184.00" x2="510.80" y2="184.00" stroke="#f0e054" stroke-width="2.04" stroke-linecap="round"/><line x1="515.87" y1="180.75" x2="512.23" y2="178.65" stroke="#f0e054" stroke-width="2.04" stroke-linecap="round"/><line x1="518.25" y1="178.37" x2="516.15" y2="174.73" stroke="#f0e054" stroke-width="2.04" stroke-linecap="round"/><circle cx="521.5" cy="184" r="7.0" fill="#fae52e"/><polygon points="542.12,192.62 533.95,189.50 537.29,187.79 539.00,184.45" fill="#8a8a8a"/><path d="M504 209 C503 211.5 501 213 501 215.2 A3 3 0 0 0 507 215.2 C507 213 505 211.5 504 209 Z" fill="none" stroke="#555" stroke-width="0.95"/><polygon points="582,221.5 582,226.5 577,226.5" fill="#cfcfcf"/></svg>
<div class="abs" style="left:12px;top:430px;width:576px;height:337.5px;background:#fff;border-radius:3px;box-shadow:0 1px 2px rgba(0,0,0,0.18)"></div>
<div class="abs" style="left:12px;top:430px;width:576px;height:29.5px;background:#2e6489;border-radius:3px 3px 0 0"></div>
<div class="abs" style="left:12px;top:459.5px;width:576px;height:1px;background:#fcfce8"></div>
<svg style="position:absolute;left:15px;top:433px;" width="28" height="24" viewBox="0 0 28 24"><path d="M4.5 2 V21.5 H23.5" fill="none" stroke="#f4f8fb" stroke-width="1"/><path d="M5.1 14 L8.4 8.9 L12 15.5 L15.6 11.3 L18.9 16.7 L21.3 10.7 L23.7 9.8" fill="none" stroke="#c9d98c" stroke-width="1.1" stroke-linejoin="round"/></svg>
<div class="t" style="left:47.00px;top:441px;font-size:11.5px;line-height:11.5px;color:#fff;font-weight:400;">14-Tage-Wetter</div>
<svg style="position:absolute;left:562px;top:436px;" width="18" height="18" viewBox="0 0 18 18"><circle cx="12.2" cy="4.8" r="1.9" fill="#fff"/><circle cx="6" cy="9" r="1.9" fill="#fff"/><circle cx="12.2" cy="13.4" r="1.9" fill="#fff"/><path d="M12.2 4.8 L6 9 L12.2 13.4" fill="none" stroke="#fff" stroke-width="1.1"/></svg>
<div class="abs" style="left:222.5px;top:472px;width:77.4px;height:184.5px;background:#f1f5f8"></div>
<div class="abs" style="left:493.4px;top:472px;width:77.4px;height:184.5px;background:#f1f5f8"></div>
<div class="t" style="left:-101.65px;width:300px;text-align:center;top:477px;font-size:10.5px;line-height:10.5px;color:#666;font-weight:400;">Mo</div>
<div class="t" style="left:-62.95px;width:300px;text-align:center;top:477px;font-size:10.5px;line-height:10.5px;color:#666;font-weight:400;">Di</div>
<div class="t" style="left:-24.25px;width:300px;text-align:center;top:477px;font-size:10.5px;line-height:10.5px;color:#666;font-weight:400;">Mi</div>
<div class="t" style="left:14.45px;width:300px;text-align:center;top:477px;font-size:10.5px;line-height:10.5px;color:#666;font-weight:400;">Do</div>
<div class="t" style="left:53.15px;width:300px;text-align:center;top:477px;font-size:10.5px;line-height:10.5px;color:#666;font-weight:400;">Fr</div>
<div class="t" style="left:91.85px;width:300px;text-align:center;top:477px;font-size:10.5px;line-height:10.5px;color:#666;font-weight:400;">Sa</div>
<div class="t" style="left:130.55px;width:300px;text-align:center;top:477px;font-size:10.5px;line-height:10.5px;color:#666;font-weight:400;">So</div>
<div class="t" style="left:169.25px;width:300px;text-align:center;top:477px;font-size:10.5px;line-height:10.5px;color:#666;font-weight:400;">Mo</div>
<div class="t" style="left:207.95px;width:300px;text-align:center;top:477px;font-size:10.5px;line-height:10.5px;color:#666;font-weight:400;">Di</div>
<div class="t" style="left:246.65px;width:300px;text-align:center;top:477px;font-size:10.5px;line-height:10.5px;color:#666;font-weight:400;">Mi</div>
<div class="t" style="left:285.35px;width:300px;text-align:center;top:477px;font-size:10.5px;line-height:10.5px;color:#666;font-weight:400;">Do</div>
<div class="t" style="left:324.05px;width:300px;text-align:center;top:477px;font-size:10.5px;line-height:10.5px;color:#666;font-weight:400;">Fr</div>
<div class="t" style="left:362.75px;width:300px;text-align:center;top:477px;font-size:10.5px;line-height:10.5px;color:#666;font-weight:400;">Sa</div>
<div class="t" style="left:401.45px;width:300px;text-align:center;top:477px;font-size:10.5px;line-height:10.5px;color:#666;font-weight:400;">So</div>
<svg style="position:absolute;left:0px;top:0px;pointer-events:none" width="600" height="960" viewBox="0 0 600 960"><path d="M48.35 557.60 C63.83 548.67 70.99 543.00 87.05 535.28 C101.95 528.12 110.27 520.40 125.75 520.40 C141.23 520.40 148.58 533.75 164.45 535.28 C179.54 536.73 187.67 527.84 203.15 527.84 C218.63 527.84 226.37 535.28 241.85 535.28 C257.33 535.28 265.46 532.19 280.55 527.84 C296.42 523.26 303.77 512.96 319.25 512.96 C334.73 512.96 341.94 524.76 357.95 527.84 C372.90 530.71 381.31 526.37 396.65 527.84 C412.27 529.34 419.73 533.78 435.35 535.28 C450.69 536.75 458.57 535.28 474.05 535.28 C489.53 535.28 497.27 535.28 512.75 535.28 C528.23 535.28 535.97 535.28 551.45 535.28" fill="none" stroke="#f3efef" stroke-width="1"/><path d="M48.35 583.60 C63.83 589.54 73.55 589.39 87.05 598.46 C104.51 610.20 110.27 635.61 125.75 635.61 C141.23 635.61 146.46 607.09 164.45 598.46 C177.42 592.23 188.78 594.32 203.15 598.46 C219.74 603.24 226.37 620.75 241.85 620.75 C257.33 620.75 265.07 607.38 280.55 598.46 C296.03 589.54 303.19 577.71 319.25 576.17 C334.15 574.74 342.08 586.46 357.95 591.03 C373.04 595.38 381.03 596.96 396.65 598.46 C411.99 599.93 420.01 596.99 435.35 598.46 C450.97 599.96 458.43 604.39 474.05 605.89 C489.39 607.36 497.41 604.42 512.75 605.89 C528.37 607.39 535.97 610.35 551.45 613.32" fill="none" stroke="#f1f1f3" stroke-width="1"/><circle cx="48.35" cy="557.60" r="1.9" fill="#d9534f"/><circle cx="87.05" cy="535.28" r="1.9" fill="#d9534f"/><circle cx="125.75" cy="520.40" r="1.9" fill="#d9534f"/><circle cx="164.45" cy="535.28" r="1.9" fill="#d9534f"/><circle cx="203.15" cy="527.84" r="1.9" fill="#d9534f"/><circle cx="241.85" cy="535.28" r="1.9" fill="#d9534f"/><circle cx="280.55" cy="527.84" r="1.9" fill="#d9534f"/><circle cx="319.25" cy="512.96" r="1.9" fill="#d9534f"/><circle cx="357.95" cy="527.84" r="1.9" fill="#d9534f"/><circle cx="396.65" cy="527.84" r="1.9" fill="#d9534f"/><circle cx="435.35" cy="535.28" r="1.9" fill="#d9534f"/><circle cx="474.05" cy="535.28" r="1.9" fill="#d9534f"/><circle cx="512.75" cy="535.28" r="1.9" fill="#d9534f"/><circle cx="551.45" cy="535.28" r="1.9" fill="#d9534f"/><circle cx="48.35" cy="583.60" r="1.9" fill="#2f5577"/><circle cx="87.05" cy="598.46" r="1.9" fill="#2f5577"/><circle cx="125.75" cy="635.61" r="1.9" fill="#2f5577"/><circle cx="164.45" cy="598.46" r="1.9" fill="#2f5577"/><circle cx="203.15" cy="598.46" r="1.9" fill="#2f5577"/><circle cx="241.85" cy="620.75" r="1.9" fill="#2f5577"/><circle cx="280.55" cy="598.46" r="1.9" fill="#2f5577"/><circle cx="319.25" cy="576.17" r="1.9" fill="#2f5577"/><circle cx="357.95" cy="591.03" r="1.9" fill="#2f5577"/><circle cx="396.65" cy="598.46" r="1.9" fill="#2f5577"/><circle cx="435.35" cy="598.46" r="1.9" fill="#2f5577"/><circle cx="474.05" cy="605.89" r="1.9" fill="#2f5577"/><circle cx="512.75" cy="605.89" r="1.9" fill="#2f5577"/><circle cx="551.45" cy="613.32" r="1.9" fill="#2f5577"/></svg>
<div class="t" style="left:-101.65px;width:300px;text-align:center;top:545px;font-size:10px;line-height:10px;color:#dc5a52;font-weight:400;">9</div>
<div class="t" style="left:-62.95px;width:300px;text-align:center;top:523px;font-size:10px;line-height:10px;color:#dc5a52;font-weight:400;">12</div>
<div class="t" style="left:-24.25px;width:300px;text-align:center;top:508px;font-size:10px;line-height:10px;color:#dc5a52;font-weight:400;">14</div>
<div class="t" style="left:14.45px;width:300px;text-align:center;top:523px;font-size:10px;line-height:10px;color:#dc5a52;font-weight:400;">12</div>
<div class="t" style="left:53.15px;width:300px;text-align:center;top:515px;font-size:10px;line-height:10px;color:#dc5a52;font-weight:400;">13</div>
<div class="t" style="left:91.85px;width:300px;text-align:center;top:523px;font-size:10px;line-height:10px;color:#dc5a52;font-weight:400;">12</div>
<div class="t" style="left:130.55px;width:300px;text-align:center;top:515px;font-size:10px;line-height:10px;color:#dc5a52;font-weight:400;">13</div>
<div class="t" style="left:169.25px;width:300px;text-align:center;top:500px;font-size:10px;line-height:10px;color:#dc5a52;font-weight:400;">15</div>
<div class="t" style="left:207.95px;width:300px;text-align:center;top:515px;font-size:10px;line-height:10px;color:#dc5a52;font-weight:400;">13</div>
<div class="t" style="left:246.65px;width:300px;text-align:center;top:515px;font-size:10px;line-height:10px;color:#dc5a52;font-weight:400;">13</div>
<div class="t" style="left:285.35px;width:300px;text-align:center;top:523px;font-size:10px;line-height:10px;color:#dc5a52;font-weight:400;">12</div>
<div class="t" style="left:324.05px;width:300px;text-align:center;top:523px;font-size:10px;line-height:10px;color:#dc5a52;font-weight:400;">12</div>
<div class="t" style="left:362.75px;width:300px;text-align:center;top:523px;font-size:10px;line-height:10px;color:#dc5a52;font-weight:400;">12</div>
<div class="t" style="left:401.45px;width:300px;text-align:center;top:523px;font-size:10px;line-height:10px;color:#dc5a52;font-weight:400;">12</div>
<div class="t" style="left:-101.65px;width:300px;text-align:center;top:590px;font-size:10px;line-height:10px;color:#3b6284;font-weight:400;">6</div>
<div class="t" style="left:-62.95px;width:300px;text-align:center;top:605px;font-size:10px;line-height:10px;color:#3b6284;font-weight:400;">4</div>
<div class="t" style="left:-24.25px;width:300px;text-align:center;top:642px;font-size:10px;line-height:10px;color:#3b6284;font-weight:400;">-1</div>
<div class="t" style="left:14.45px;width:300px;text-align:center;top:605px;font-size:10px;line-height:10px;color:#3b6284;font-weight:400;">4</div>
<div class="t" style="left:53.15px;width:300px;text-align:center;top:605px;font-size:10px;line-height:10px;color:#3b6284;font-weight:400;">4</div>
<div class="t" style="left:91.85px;width:300px;text-align:center;top:627px;font-size:10px;line-height:10px;color:#3b6284;font-weight:400;">1</div>
<div class="t" style="left:130.55px;width:300px;text-align:center;top:605px;font-size:10px;line-height:10px;color:#3b6284;font-weight:400;">4</div>
<div class="t" style="left:169.25px;width:300px;text-align:center;top:583px;font-size:10px;line-height:10px;color:#3b6284;font-weight:400;">7</div>
<div class="t" style="left:207.95px;width:300px;text-align:center;top:597px;font-size:10px;line-height:10px;color:#3b6284;font-weight:400;">5</div>
<div class="t" style="left:246.65px;width:300px;text-align:center;top:605px;font-size:10px;line-height:10px;color:#3b6284;font-weight:400;">4</div>
<div class="t" style="left:285.35px;width:300px;text-align:center;top:605px;font-size:10px;line-height:10px;color:#3b6284;font-weight:400;">4</div>
<div class="t" style="left:324.05px;width:300px;text-align:center;top:612px;font-size:10px;line-height:10px;color:#3b6284;font-weight:400;">3</div>
<div class="t" style="left:362.75px;width:300px;text-align:center;top:612px;font-size:10px;line-height:10px;color:#3b6284;font-weight:400;">3</div>
<div class="t" style="left:401.45px;width:300px;text-align:center;top:620px;font-size:10px;line-height:10px;color:#3b6284;font-weight:400;">2</div>
<div class="abs" style="left:29px;top:656px;width:38px;height:17.5px;background:#f3e9a0"></div>
<div class="abs" style="left:68px;top:656px;width:37px;height:17.5px;background:#fde94a"></div>
<div class="abs" style="left:106px;top:656px;width:38px;height:17.5px;background:#fde94a"></div>
<div class="abs" style="left:145px;top:656px;width:38px;height:17.5px;background:#efeac8"></div>
<div class="abs" style="left:184px;top:656px;width:37px;height:17.5px;background:#fde94a"></div>
<div class="abs" style="left:222px;top:656px;width:38px;height:17.5px;background:#fde94a"></div>
<div class="abs" style="left:261px;top:656px;width:38px;height:17.5px;background:#f3e9a0"></div>
<div class="abs" style="left:300px;top:656px;width:38px;height:17.5px;background:#f3e9a0"></div>
<div class="abs" style="left:339px;top:656px;width:37px;height:17.5px;background:#f3e9a0"></div>
<div class="abs" style="left:377px;top:656px;width:38px;height:17.5px;background:#f3e9a0"></div>
<div class="abs" style="left:416px;top:656px;width:38px;height:17.5px;background:#f3e9a0"></div>
<div class="abs" style="left:455px;top:656px;width:37px;height:17.5px;background:#f3e9a0"></div>
<div class="abs" style="left:493px;top:656px;width:38px;height:17.5px;background:#f3e9a0"></div>
<div class="abs" style="left:532px;top:656px;width:39px;height:17.5px;background:#fde94a"></div>
<div class="abs" style="left:29.5px;top:692px;width:6px;height:6px;border-radius:50%;background:#d9534f"></div>
<div class="t" style="left:41.00px;top:691px;font-size:9px;line-height:9px;color:#777;font-weight:400;">Max (°C)</div>
<div class="abs" style="left:87px;top:692px;width:6px;height:6px;border-radius:50%;background:#2f5577"></div>
<div class="t" style="left:99.00px;top:691px;font-size:9px;line-height:9px;color:#777;font-weight:400;">Min (°C)</div>
<svg style="position:absolute;left:470px;top:689px;" width="16" height="14" viewBox="0 0 16 14"><circle cx="9.5" cy="6.8" r="2.6" fill="none" stroke="#777" stroke-width="0.9"/><line x1="13.70" y1="6.80" x2="15.10" y2="6.80" stroke="#777" stroke-width="0.9"/><line x1="12.47" y1="9.77" x2="13.46" y2="10.76" stroke="#777" stroke-width="0.9"/><line x1="9.50" y1="11.00" x2="9.50" y2="12.40" stroke="#777" stroke-width="0.9"/><line x1="6.53" y1="9.77" x2="5.54" y2="10.76" stroke="#777" stroke-width="0.9"/><line x1="5.30" y1="6.80" x2="3.90" y2="6.80" stroke="#777" stroke-width="0.9"/><line x1="6.53" y1="3.83" x2="5.54" y2="2.84" stroke="#777" stroke-width="0.9"/><line x1="9.50" y1="2.60" x2="9.50" y2="1.20" stroke="#777" stroke-width="0.9"/><line x1="12.47" y1="3.83" x2="13.46" y2="2.84" stroke="#777" stroke-width="0.9"/></svg>
<div class="abs" style="left:491.5px;top:686px;width:79.5px;height:18px;background:linear-gradient(90deg,#f9e54a 0%,#f6e566 22%,#efe9bf 55%,#e9e6dc 100%)"></div>
<div class="t" style="left:498.50px;top:691px;font-size:9px;line-height:9px;color:#6a6a5a;font-weight:400;">viel</div>
<div class="t" style="left:265.00px;width:300px;text-align:right;top:691px;font-size:9px;line-height:9px;color:#777;font-weight:400;">wenig</div>
<div class="abs" style="left:19px;top:727px;width:108px;height:29.5px;border-radius:4px;background:#e6ecf1;box-shadow:0 1.5px 1.5px rgba(0,0,0,0.18)"></div>
<div class="t" style="left:31.50px;top:736px;font-size:12.3px;line-height:12.3px;color:#3a6890;font-weight:400;-webkit-text-stroke:0.45px #3a6890">WetterTrend</div>
<svg style="position:absolute;left:108px;top:735px;" width="12" height="14" viewBox="0 0 12 14"><path d="M3.5 2.5 L8 7 L3.5 11.5" fill="none" stroke="#3d6a8e" stroke-width="1.6"/></svg>
<div class="abs" style="left:12px;top:779.5px;width:576px;height:138.5px;background:#fff;border-radius:3px;box-shadow:0 1px 2px rgba(0,0,0,0.18)"></div>
<div class="t" style="left:24.00px;top:794px;font-size:16px;line-height:16px;color:#435262;font-weight:400;">Astroinfos</div>
<div class="t" style="left:277.00px;width:300px;text-align:right;top:798px;font-size:11px;line-height:11px;color:#555;font-weight:400;">heute</div>
<div class="t" style="left:24.00px;top:819px;font-size:9.5px;line-height:9.5px;color:#333;font-weight:400;">16:01 Ortszeit</div>
<div class="t" style="left:23.60px;top:836px;font-size:9.5px;line-height:9.5px;color:#e8c25a;font-weight:400;">Sonne</div>
<div class="t" style="left:216.00px;top:836px;font-size:9.5px;line-height:9.5px;color:#4a7aa0;font-weight:400;">Mond</div>
<div class="t" style="left:36.60px;top:855px;font-size:9.5px;line-height:9.5px;color:#333;font-weight:400;">06:43</div>
<div class="t" style="left:36.60px;top:875px;font-size:9.5px;line-height:9.5px;color:#333;font-weight:400;">20:09</div>
<div class="t" style="left:39.00px;top:894px;font-size:9.5px;line-height:9.5px;color:#333;font-weight:400;">13h 26min</div>
<div class="t" style="left:229.00px;top:855px;font-size:9.5px;line-height:9.5px;color:#333;font-weight:400;">00:58</div>
<div class="t" style="left:229.00px;top:875px;font-size:9.5px;line-height:9.5px;color:#333;font-weight:400;">07:34</div>
<div class="abs" style="left:525.7px;top:835.3px;width:51.2px;height:51.4px;border-radius:2.5px;background:#1d3766"></div>
<div class="t" style="left:277.00px;width:300px;text-align:right;top:895px;font-size:9.5px;line-height:9.5px;color:#333;font-weight:400;">Abnehmender Mond</div>
<svg style="position:absolute;left:0px;top:0px;pointer-events:none" width="600" height="960" viewBox="0 0 600 960"><path d="M26 863.2 V857.7 M23.7 860.0 L26 857.7 L28.3 860.0" fill="none" stroke="#333" stroke-width="0.95"/><path d="M26 877 V882.5 M23.7 880.2 L26 882.5 L28.3 880.2" fill="none" stroke="#333" stroke-width="0.95"/><path d="M218.3 863.2 V857.7 M216.0 860.0 L218.3 857.7 L220.60000000000002 860.0" fill="none" stroke="#333" stroke-width="0.95"/><path d="M218.3 877 V882.5 M216.0 880.2 L218.3 882.5 L220.60000000000002 880.2" fill="none" stroke="#333" stroke-width="0.95"/><path d="M29.3 899.3 A3 3 0 1 1 26.8 896.2" fill="none" stroke="#444" stroke-width="0.95"/><path d="M26.8 897.5 V899.3 H28.6" fill="none" stroke="#444" stroke-width="0.8"/><defs><radialGradient id="mg" cx="0.4" cy="0.45" r="0.65"><stop offset="0" stop-color="#e2e3e6"/><stop offset="0.75" stop-color="#d4d5d9"/><stop offset="1" stop-color="#bfc1c6"/></radialGradient><filter id="bl" x="-50%" y="-50%" width="200%" height="200%"><feGaussianBlur stdDeviation="1.2"/></filter><clipPath id="mc"><path d="M551 841.9 A19.6 19.6 0 0 0 551 881.1 A14.5 19.6 0 0 0 551 841.9 Z"/></clipPath></defs><circle cx="551" cy="861.5" r="19.8" fill="#172f5a"/><path d="M551 841.9 A19.6 19.6 0 0 0 551 881.1 A14.5 19.6 0 0 0 551 841.9 Z" fill="url(#mg)"/><g clip-path="url(#mc)" filter="url(#bl)" fill="#a9abb2" opacity="0.75"><ellipse cx="545" cy="852" rx="5" ry="3.5"/><ellipse cx="556" cy="856" rx="4" ry="5"/><ellipse cx="541" cy="864" rx="3.5" ry="4"/><ellipse cx="552" cy="866" rx="3" ry="2.5"/><ellipse cx="560" cy="848" rx="2.5" ry="2"/></g><g clip-path="url(#mc)" filter="url(#bl)" fill="#f2f2f4" opacity="0.7"><ellipse cx="548" cy="875" rx="6" ry="3"/><ellipse cx="538" cy="856" rx="2" ry="4"/></g></svg>
<div class="abs" style="left:0;top:924px;width:600px;height:36px;background:#fbfcfd"></div>
<div class="abs" style="left:52px;top:952px;width:108px;height:8px;background:#f0f3f8"></div>
<svg style="position:absolute;left:0px;top:0px;pointer-events:none" width="600" height="960" viewBox="0 0 600 960"><circle cx="79.5" cy="937.5" r="1.05" fill="#666"/><circle cx="84.7" cy="937.5" r="1.05" fill="#666"/><circle cx="89.9" cy="937.5" r="1.05" fill="#666"/><circle cx="79.5" cy="942.7" r="1.05" fill="#666"/><circle cx="84.7" cy="942.7" r="1.05" fill="#666"/><circle cx="89.9" cy="942.7" r="1.05" fill="#666"/><circle cx="79.5" cy="947.9" r="1.05" fill="#666"/><circle cx="84.7" cy="947.9" r="1.05" fill="#666"/><circle cx="89.9" cy="947.9" r="1.05" fill="#666"/><defs><linearGradient id="pg" x1="0" y1="0" x2="0" y2="1"><stop offset="0" stop-color="#6fcf5a"/><stop offset="1" stop-color="#38a53a"/></linearGradient></defs><rect x="103" y="932.4" width="20.6" height="19.6" rx="6.5" fill="url(#pg)"/><path d="M111 936.5 C109 937.5 108.5 941 110 944.5 C111.5 947.5 113.5 948.5 115 948 L115.5 946 L113.5 944.5 L112.5 945 C111.5 943.5 111 941.5 111.3 940.3 L112.3 939.8 L112 937 Z" fill="#fff"/><circle cx="143.5" cy="942.5" r="7.3" fill="#2e6fe0"/><path d="M137.8 949.8 L139.6 946 L141.5 947 Z" fill="#2e6fe0"/><path d="M139.5 944.8 L142.3 941.3 L144.3 943 L147.5 940 L144.8 944.2 L142.8 942.5 Z" fill="#fff"/><rect x="163.6" y="932.4" width="20.4" height="19.6" rx="7" fill="#1b74e8"/><path d="M175.3 952 V944.5 H177.8 L178.2 941.6 H175.3 V939.8 C175.3 939 175.6 938.5 176.8 938.5 H178.3 V936 C177.8 935.9 177 935.8 176.1 935.8 C173.9 935.8 172.4 937.1 172.4 939.5 V941.6 H170 V944.5 H172.4 V952 Z" fill="#fff"/><rect x="193" y="932.4" width="20.6" height="19.6" rx="7" fill="#1e3f96"/><text x="203.3" y="944.6" font-size="6.2" font-weight="700" fill="#fff" text-anchor="middle" font-family="Liberation Sans">GMX</text><path d="M226 937.5 L233 943 L240 937.5 V948 H226 Z" fill="#8f7af0"/><path d="M226 937.5 L233 943 L240 937.5 L240 948 L233 943 L229 946 V948 H226 Z" fill="#6d4aff" opacity="0.7"/><path d="M256.5 948 V938.5 L263.5 943.5 L270.5 938.5 V948" fill="none" stroke="#ea4335" stroke-width="2.6" stroke-linejoin="round"/><path d="M256.5 940 V948" stroke="#4285f4" stroke-width="2.6"/><path d="M270.5 940 V948" stroke="#34a853" stroke-width="2.6"/><circle cx="292.8" cy="942.2" r="4.3" fill="none" stroke="#56c05a" stroke-width="1.2"/><path d="M289.2 946 L288.4 947.8 L290.4 947.2" fill="#56c05a"/><circle cx="300" cy="949" r="2.9" fill="#e6786a" stroke="#fff" stroke-width="0.9"/><rect x="317" y="936" width="12.6" height="12.4" rx="1.5" fill="#fff"/><path d="M317 936 H329.6 V938.5 H317 Z" fill="#4285f4"/><path d="M317 938.5 H319.2 V948.4 H318.5 A1.5 1.5 0 0 1 317 947 Z" fill="#4285f4"/><path d="M327.4 938.5 H329.6 V944 H327.4 Z" fill="#fbbc04"/><path d="M319.2 946.2 H329.6 V947 A1.5 1.5 0 0 1 328.1 948.4 H319.2 Z" fill="#34a853"/><text x="323.3" y="945" font-size="5" fill="#4285f4" text-anchor="middle" font-family="Liberation Sans">31</text><rect x="343" y="932.4" width="21" height="20" rx="7" fill="#111"/><path d="M358.5 938.5 A5.5 5.5 0 1 0 358.5 946.3" fill="none" stroke="#f2e53a" stroke-width="3"/><circle cx="359" cy="949.2" r="2.9" fill="#e6786a" stroke="#fff" stroke-width="0.9"/><circle cx="383" cy="939" r="1.7" fill="#4ab3d8"/><circle cx="383" cy="944.8" r="1.7" fill="#d0454a"/><circle cx="389.5" cy="949" r="2.9" fill="#e6786a" stroke="#fff" stroke-width="0.9"/><path d="M428 938.5 V947.5 M433 938.5 V947.5 M438 938.5 V947.5" stroke="#666" stroke-width="1.3"/><rect x="484" y="938" width="11.2" height="10" rx="3.8" fill="none" stroke="#666" stroke-width="1.3"/><path d="M550 937.5 L543.5 943 L550 948.5" fill="none" stroke="#666" stroke-width="1.3"/></svg>
</body></html>
